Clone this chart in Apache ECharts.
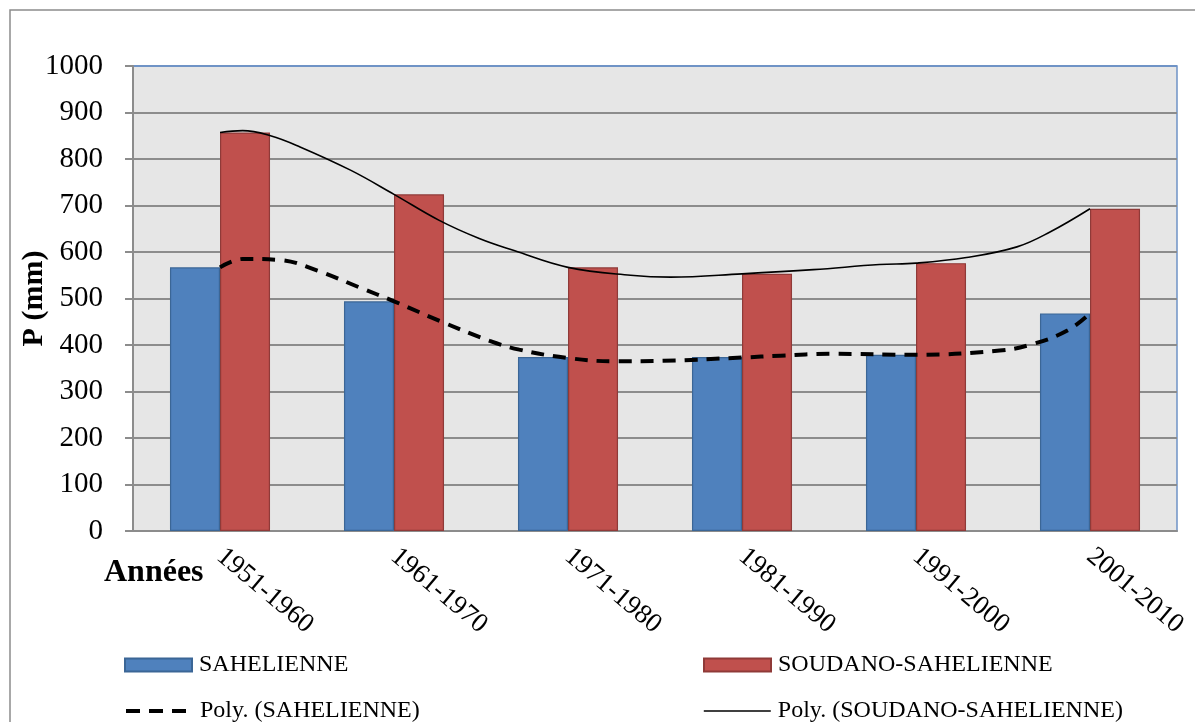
<!DOCTYPE html>
<html><head><meta charset="utf-8">
<script src="https://cdn.jsdelivr.net/npm/echarts@6/dist/echarts.min.js"></script>
<style>html,body{margin:0;padding:0;background:#fff}#c{width:1195px;height:722px}</style>
</head><body><div id="c"></div>
<script>
// ---- data ----
const categories = ['1951-1960', '1961-1970', '1971-1980', '1981-1990', '1991-2000', '2001-2010'];
const sahelienne = [567, 494, 374, 374, 379, 468];
const soudano = [857, 724, 567, 553, 576, 693];
const yTicks = [0, 100, 200, 300, 400, 500, 600, 700, 800, 900, 1000];
// trend curves (position in category units, value)
const polySahelPos = [0, 0.13, 0.34, 0.56, 0.80, 1.0, 1.28, 1.55, 1.72, 2.0, 2.26, 2.55, 3.0, 3.22, 3.51, 4.0, 4.48, 4.67, 4.87, 5.0];
const polySahelVal = [567, 585, 583, 560, 524, 494, 449, 409, 390, 372, 365, 366, 373, 377, 381, 379, 388, 402, 431, 468];
const polySoudPos = [0, 0.13, 0.29, 0.46, 0.75, 1.0, 1.26, 1.49, 1.69, 2.0, 2.36, 2.59, 3.0, 3.41, 3.79, 4.0, 4.29, 4.58, 4.77, 5.0];
const polySoudVal = [857, 861, 850, 826, 776, 724, 668, 629, 603, 567, 550, 546, 553, 562, 573, 576, 588, 611, 643, 693];

const serif = '"Liberation Serif", "Times New Roman", serif';
const gridGray = '#8c8c8c';
const zip = (a, b) => a.map((v, i) => [v, b[i]]);
const splitColors = yTicks.map((t, i) => i === yTicks.length - 1 ? '#6f93c6' : gridGray);
const legendText = {fontSize: 24, fontFamily: serif, color: '#000', padding: [0, 0, 0, 2]};

const chart = echarts.init(document.getElementById('c'), null, {renderer: 'canvas'});
chart.setOption({
  animation: false,
  backgroundColor: '#fff',
  graphic: [
    {type: 'rect', shape: {x: 10, y: 10, width: 1200, height: 730}, style: {fill: 'none', stroke: '#8c8c8c', lineWidth: 1.5}, z: 0},
    {type: 'text', left: 104, top: 557, style: {text: 'Années', font: 'bold 32px ' + serif, fill: '#000'}}
  ],
  grid: {left: 133, right: 18, top: 66, bottom: 191, outerBoundsMode: 'none', containLabel: false,
    show: true, backgroundColor: '#e6e6e6', borderColor: '#6f93c6', borderWidth: 1.5},
  xAxis: [
    {type: 'category', data: categories, axisLine: {lineStyle: {color: gridGray, width: 2}}, axisTick: {show: false},
     axisLabel: {rotate: -40, interval: 0, margin: 22, fontSize: 27, fontFamily: serif, color: '#000'}},
    {type: 'value', min: -0.5, max: 5.5, show: false}
  ],
  yAxis: {type: 'value', min: 0, max: 1000, interval: 100,
    name: 'P (mm)', nameLocation: 'middle', nameGap: 84, nameRotate: 90, nameMoveOverlap: false,
    nameTextStyle: {fontSize: 30, fontWeight: 'bold', fontFamily: serif, color: '#000'},
    axisLine: {show: true, onZero: false, lineStyle: {color: gridGray, width: 2}},
    axisTick: {show: true, length: 8, lineStyle: {color: gridGray, width: 2}},
    axisLabel: {fontSize: 29, fontFamily: serif, color: '#000', margin: 30, formatter: v => String(v)},
    splitLine: {lineStyle: {color: splitColors, width: 2}}
  },
  legend: [
    {data: [{name: 'SAHELIENNE', icon: 'rect'}], left: 124, top: 653, padding: 0, itemWidth: 67, itemHeight: 13, textStyle: legendText},
    {data: [{name: 'SOUDANO-SAHELIENNE', icon: 'rect'}], left: 703, top: 653, padding: 0, itemWidth: 67, itemHeight: 13, textStyle: legendText},
    {data: ['Poly. (SAHELIENNE)'], left: 124, top: 699, padding: 0, itemWidth: 67, itemHeight: 13, textStyle: legendText,
     itemStyle: {opacity: 0}, lineStyle: {width: 4, type: [14, 9]}},
    {data: ['Poly. (SOUDANO-SAHELIENNE)'], left: 703, top: 699, padding: 0, itemWidth: 67, itemHeight: 13, textStyle: legendText,
     itemStyle: {opacity: 0}, lineStyle: {width: 1.6}}
  ],
  series: [
    {name: 'SAHELIENNE', type: 'bar', data: sahelienne, barGap: '0%', barCategoryGap: '42.5%',
     itemStyle: {color: '#4f81bd', borderColor: '#3b6696', borderWidth: 1.2}},
    {name: 'SOUDANO-SAHELIENNE', type: 'bar', data: soudano, barGap: '0%', barCategoryGap: '42.5%',
     itemStyle: {color: '#c0504d', borderColor: '#8f3a38', borderWidth: 1.2}},
    {name: 'Poly. (SAHELIENNE)', type: 'line', xAxisIndex: 1, data: zip(polySahelPos, polySahelVal), smooth: 0.4,
     symbol: 'none', z: 5, lineStyle: {color: '#000', width: 4, type: [13, 9]}, itemStyle: {color: '#000'}},
    {name: 'Poly. (SOUDANO-SAHELIENNE)', type: 'line', xAxisIndex: 1, data: zip(polySoudPos, polySoudVal), smooth: 0.4,
     symbol: 'none', z: 5, lineStyle: {color: '#000', width: 1.6}, itemStyle: {color: '#000'}}
  ]
});
</script>
</body></html>
